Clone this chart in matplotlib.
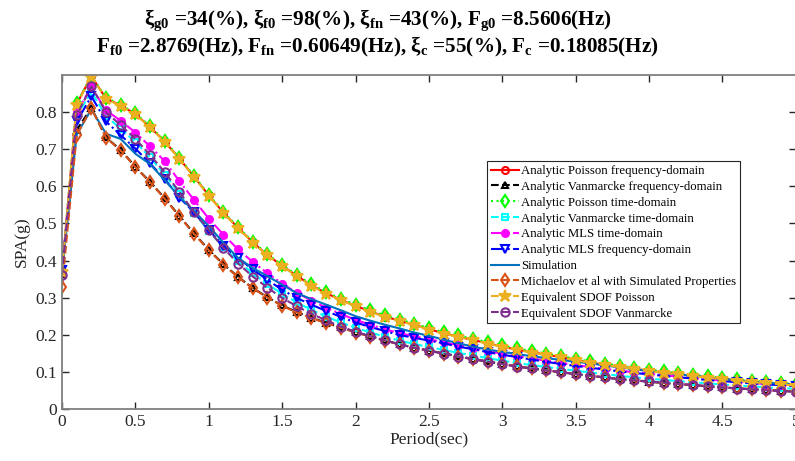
import numpy as np
import matplotlib
matplotlib.use("Agg")
import matplotlib.pyplot as plt

# ---------------- data ----------------
period = [round(0.1 * i, 1) for i in range(51)]

poisson_freq = [0.370, 0.822, 0.897, 0.837, 0.818, 0.795, 0.760, 0.721, 0.675, 0.626,
                0.576, 0.529, 0.488, 0.449, 0.415, 0.386, 0.359, 0.333, 0.312, 0.294,
                0.278, 0.263, 0.249, 0.238, 0.227, 0.215, 0.204, 0.195, 0.186, 0.177,
                0.168, 0.160, 0.153, 0.146, 0.140, 0.132, 0.125, 0.119, 0.114, 0.108,
                0.103, 0.098, 0.094, 0.089, 0.085, 0.081, 0.077, 0.073, 0.070, 0.067, 0.064]
poisson_time = [0.372, 0.824, 0.898, 0.839, 0.820, 0.797, 0.762, 0.723, 0.677, 0.628,
                0.578, 0.531, 0.490, 0.451, 0.417, 0.388, 0.361, 0.336, 0.315, 0.297,
                0.281, 0.266, 0.252, 0.241, 0.230, 0.218, 0.207, 0.198, 0.189, 0.180,
                0.171, 0.163, 0.156, 0.149, 0.143, 0.135, 0.128, 0.122, 0.117, 0.111,
                0.106, 0.101, 0.097, 0.092, 0.088, 0.084, 0.080, 0.076, 0.073, 0.070, 0.067]
sdof_poisson = [0.370, 0.820, 0.896, 0.836, 0.817, 0.794, 0.759, 0.720, 0.674, 0.625,
                0.575, 0.528, 0.487, 0.448, 0.414, 0.385, 0.358, 0.332, 0.311, 0.293,
                0.277, 0.262, 0.248, 0.237, 0.226, 0.214, 0.203, 0.194, 0.185, 0.176,
                0.167, 0.159, 0.152, 0.145, 0.139, 0.131, 0.124, 0.118, 0.113, 0.107,
                0.102, 0.097, 0.093, 0.088, 0.084, 0.080, 0.076, 0.072, 0.069, 0.066, 0.063]
vanmarcke_freq = [0.365, 0.752, 0.812, 0.732, 0.698, 0.653, 0.612, 0.568, 0.520, 0.473,
                  0.429, 0.390, 0.356, 0.326, 0.301, 0.279, 0.261, 0.246, 0.232, 0.220,
                  0.207, 0.196, 0.185, 0.174, 0.165, 0.157, 0.150, 0.142, 0.135, 0.128,
                  0.121, 0.115, 0.109, 0.104, 0.099, 0.094, 0.089, 0.085, 0.080, 0.077,
                  0.073, 0.070, 0.067, 0.064, 0.061, 0.058, 0.055, 0.053, 0.051, 0.049, 0.047]
michaelov = [0.330, 0.738, 0.811, 0.731, 0.697, 0.652, 0.611, 0.567, 0.519, 0.472,
             0.428, 0.389, 0.355, 0.325, 0.300, 0.278, 0.260, 0.245, 0.231, 0.219,
             0.206, 0.195, 0.184, 0.174, 0.165, 0.157, 0.149, 0.141, 0.134, 0.127,
             0.121, 0.115, 0.109, 0.104, 0.099, 0.094, 0.089, 0.085, 0.081, 0.077,
             0.074, 0.070, 0.067, 0.064, 0.061, 0.058, 0.056, 0.053, 0.051, 0.049, 0.047]
sdof_vanmarcke = [0.362, 0.792, 0.870, 0.800, 0.765, 0.728, 0.685, 0.638, 0.585, 0.530,
                  0.482, 0.434, 0.392, 0.357, 0.327, 0.299, 0.277, 0.256, 0.239, 0.222,
                  0.208, 0.196, 0.185, 0.174, 0.165, 0.157, 0.149, 0.141, 0.134, 0.127,
                  0.121, 0.114, 0.109, 0.104, 0.099, 0.094, 0.089, 0.085, 0.080, 0.077,
                  0.074, 0.071, 0.067, 0.065, 0.061, 0.058, 0.055, 0.053, 0.050, 0.048, 0.046]
mls_freq = [0.375, 0.775, 0.843, 0.775, 0.738, 0.702, 0.662, 0.620, 0.570, 0.530,
            0.483, 0.439, 0.407, 0.376, 0.348, 0.321, 0.299, 0.281, 0.264, 0.248,
            0.233, 0.221, 0.210, 0.199, 0.192, 0.184, 0.177, 0.168, 0.161, 0.153,
            0.146, 0.140, 0.133, 0.127, 0.121, 0.116, 0.111, 0.106, 0.101, 0.097,
            0.093, 0.089, 0.085, 0.082, 0.078, 0.075, 0.072, 0.069, 0.066, 0.064, 0.061]
mls_time = [0.370, 0.800, 0.868, 0.805, 0.777, 0.745, 0.708, 0.668, 0.614, 0.563,
            0.513, 0.470, 0.430, 0.396, 0.366, 0.338, 0.313, 0.292, 0.273, 0.256,
            0.240, 0.227, 0.215, 0.204, 0.196, 0.188, 0.180, 0.172, 0.164, 0.156,
            0.149, 0.142, 0.136, 0.130, 0.124, 0.118, 0.113, 0.108, 0.103, 0.099,
            0.095, 0.091, 0.087, 0.083, 0.080, 0.076, 0.073, 0.070, 0.067, 0.065, 0.062]
vanmarcke_time = [0.370, 0.790, 0.855, 0.790, 0.755, 0.720, 0.678, 0.632, 0.580, 0.528,
                  0.480, 0.436, 0.398, 0.366, 0.337, 0.310, 0.287, 0.267, 0.249, 0.233,
                  0.219, 0.206, 0.195, 0.184, 0.175, 0.167, 0.159, 0.151, 0.144, 0.137,
                  0.130, 0.124, 0.118, 0.113, 0.108, 0.103, 0.098, 0.094, 0.089, 0.085,
                  0.082, 0.078, 0.075, 0.072, 0.069, 0.066, 0.063, 0.061, 0.058, 0.056, 0.054]
simulation = [0.370, 0.740, 0.808, 0.742, 0.728, 0.688, 0.660, 0.617, 0.572, 0.533,
              0.493, 0.448, 0.407, 0.380, 0.358, 0.335, 0.312, 0.296, 0.281, 0.266,
              0.250, 0.238, 0.227, 0.217, 0.206, 0.197, 0.187, 0.177, 0.168, 0.160,
              0.154, 0.148, 0.142, 0.137, 0.132, 0.127, 0.123, 0.117, 0.112, 0.107,
              0.102, 0.097, 0.093, 0.089, 0.085, 0.081, 0.077, 0.074, 0.071, 0.068, 0.065]

labels = ["Analytic Poisson frequency-domain",
          "Analytic Vanmarcke frequency-domain",
          "Analytic Poisson time-domain",
          "Analytic Vanmarcke time-domain",
          "Analytic MLS time-domain",
          "Analytic MLS frequency-domain",
          "Simulation",
          "Michaelov et al with Simulated Properties",
          "Equivalent SDOF Poisson",
          "Equivalent SDOF Vanmarcke"]

title_line1 = r"ξ$_{\mathbf{g0}}$ =34(%), ξ$_{\mathbf{f0}}$ =98(%), ξ$_{\mathbf{fn}}$ =43(%), F$_{\mathbf{g0}}$ =8.5606(Hz)"
title_line2 = r"F$_{\mathbf{f0}}$ =2.8769(Hz), F$_{\mathbf{fn}}$ =0.60649(Hz), ξ$_{\mathbf{c}}$ =55(%), F$_{\mathbf{c}}$ =0.18085(Hz)"

# ---------------- style ----------------
plt.rcParams['font.family'] = ['Liberation Serif', 'DejaVu Serif']
plt.rcParams['mathtext.fontset'] = 'custom'
plt.rcParams['mathtext.rm'] = 'Liberation Serif'
plt.rcParams['mathtext.it'] = 'Liberation Serif:italic'
plt.rcParams['mathtext.bf'] = 'Liberation Serif:bold'

fig = plt.figure(figsize=(7.95, 4.61), dpi=100)
ax = fig.add_axes([0.078, 0.113, 0.923, 0.724])

series = [
    (poisson_freq,   dict(color='#FF0000', ls='-',  marker='o', mfc='none', ms=5)),
    (vanmarcke_freq, dict(color='#000000', ls='--', marker='^', mfc='none', ms=5)),
    (poisson_time,   dict(color='#00FF00', ls=':',  marker='d', mfc='none', ms=6)),
    (vanmarcke_time, dict(color='#00FFFF', ls='--', marker='s', mfc='none', ms=5)),
    (mls_time,       dict(color='#FF00FF', ls='-.', marker='.', ms=10)),
    (mls_freq,       dict(color='#0000FF', ls='-.', marker='v', mfc='none', ms=6)),
    (simulation,     dict(color='#0072BD', ls='-')),
    (michaelov,      dict(color='#D95319', ls='--', marker='d', mfc='none', ms=6)),
    (sdof_poisson,   dict(color='#EDB120', ls='--', marker='*', ms=9)),
    (sdof_vanmarcke, dict(color='#7E2F8E', ls='--', marker='o', mfc='none', ms=6)),
]

for (vals, st), lab in zip(series, labels):
    ax.plot(period, vals, label=lab, lw=1.5, mew=1.5, **st)

ax.set_xlim(0, 5)
ax.set_ylim(0, 0.9)
ax.set_xticks(np.arange(0, 5.01, 0.5))
ax.set_xticklabels(["0", "0.5", "1", "1.5", "2", "2.5", "3", "3.5", "4", "4.5", "5"])
ax.set_yticks(np.arange(0, 0.81, 0.1))
ax.set_yticklabels(["0", "0.1", "0.2", "0.3", "0.4", "0.5", "0.6", "0.7", "0.8"])
ax.tick_params(direction='in', top=True, right=True, labelsize=12.5, colors='#262626',
               length=5, width=1)
for sp in ax.spines.values():
    sp.set_color('#808080')
    sp.set_linewidth(1.3)
ax.set_xlabel("Period(sec)", fontsize=12.5, color='#262626', labelpad=1)
ax.set_ylabel("SPA(g)", fontsize=12.5, color='#262626', labelpad=4)

leg = ax.legend(loc='upper left', bbox_to_anchor=(0.579, 0.742), fontsize=9.2,
                frameon=True, fancybox=False, edgecolor='#262626', framealpha=1,
                handlelength=2.2, handletextpad=0.2, labelspacing=0.3,
                borderpad=0.3, borderaxespad=0)
leg.get_frame().set_linewidth(0.8)

fig.text(0.475, 0.955, title_line1, ha='center', va='center', fontsize=15.2,
         fontweight='bold', color='black')
fig.text(0.475, 0.897, title_line2, ha='center', va='center', fontsize=15.2,
         fontweight='bold', color='black')

fig.savefig("out.png", dpi=100)
